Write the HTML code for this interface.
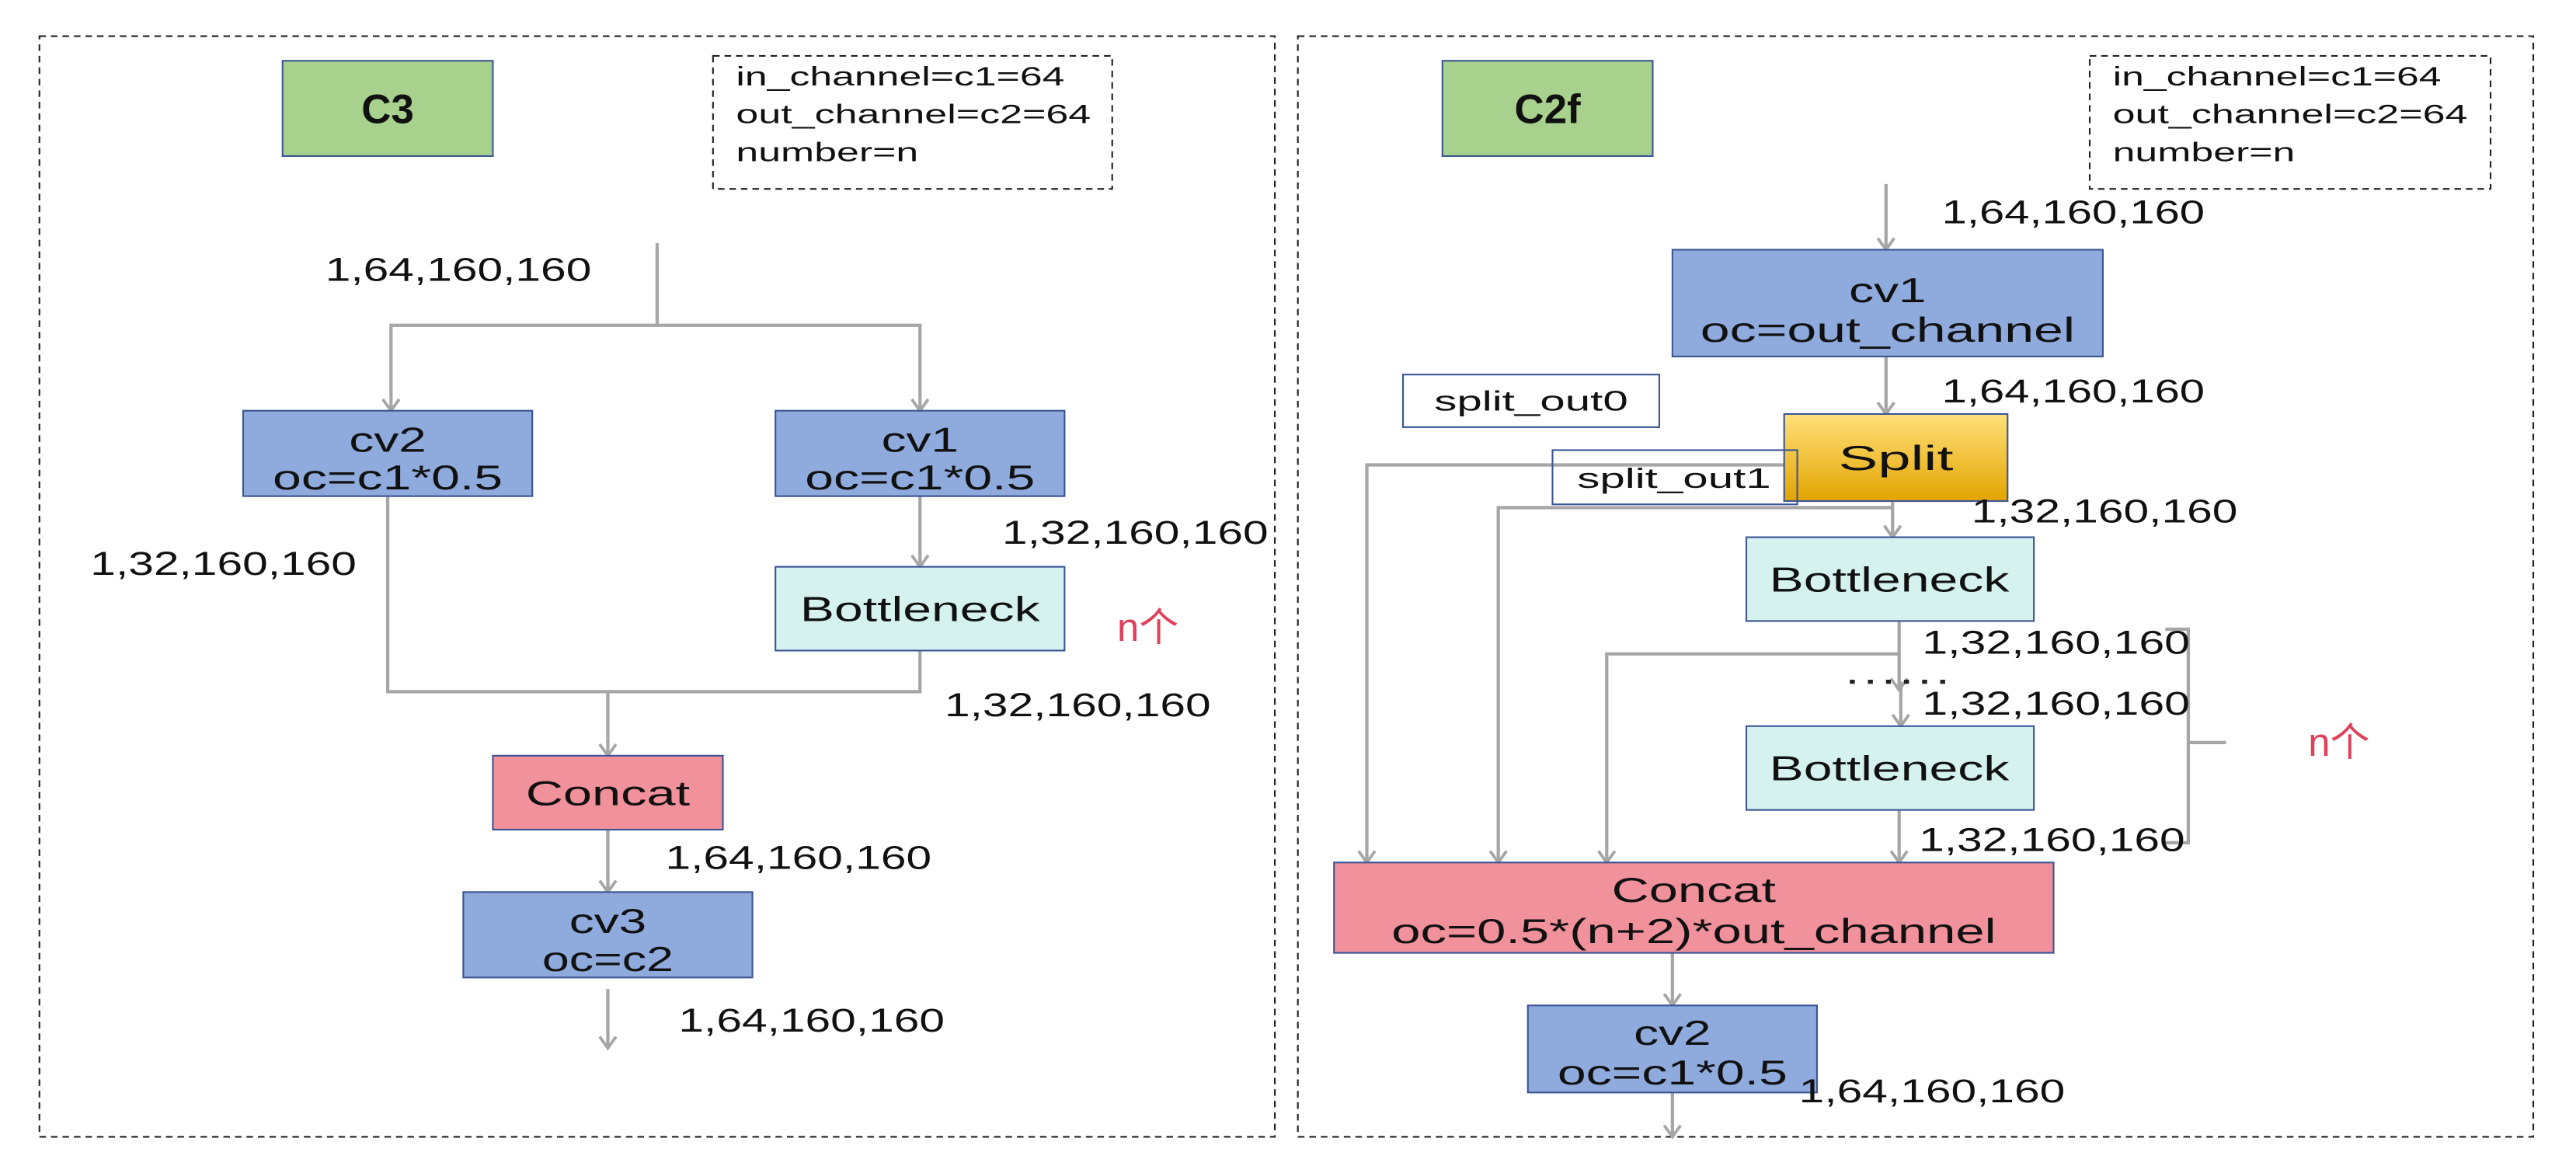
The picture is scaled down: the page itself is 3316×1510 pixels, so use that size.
<!DOCTYPE html>
<html><head><meta charset="utf-8"><style>html,body{margin:0;padding:0;background:#fff}svg{display:block}</style></head>
<body>
<svg width="3316" height="1510" viewBox="0 0 1568 714" preserveAspectRatio="none" xmlns="http://www.w3.org/2000/svg" font-family="Liberation Sans, sans-serif">
<defs>
<marker id="a" markerWidth="10" markerHeight="12" refX="8" refY="6" orient="auto" markerUnits="userSpaceOnUse" viewBox="0 0 10 12">
<polyline points="1,1 8,6 1,11" fill="none" stroke="#a6a6a6" stroke-width="1.8"/>
</marker>
<linearGradient id="g" x1="0" y1="0" x2="0" y2="1"><stop offset="0" stop-color="#ffe07a"/><stop offset="1" stop-color="#e3a400"/></linearGradient>
</defs>
<rect width="1568" height="714" fill="#fff"/>
<g fill="none" stroke="#222" stroke-width="1" stroke-dasharray="4,3">
<rect x="24" y="22" width="752" height="670"/>
<rect x="790" y="22" width="752" height="670"/>
<rect x="434" y="34" width="243" height="81"/>
<rect x="1272" y="34" width="244" height="81"/>
</g>
<g font-size="16" fill="#111">
<text x="448" y="52" textLength="200" lengthAdjust="spacingAndGlyphs">in_channel=c1=64</text>
<text x="448" y="75" textLength="216" lengthAdjust="spacingAndGlyphs">out_channel=c2=64</text>
<text x="448" y="98" textLength="111" lengthAdjust="spacingAndGlyphs">number=n</text>
<text x="1286" y="52" textLength="200" lengthAdjust="spacingAndGlyphs">in_channel=c1=64</text>
<text x="1286" y="75" textLength="216" lengthAdjust="spacingAndGlyphs">out_channel=c2=64</text>
<text x="1286" y="98" textLength="111" lengthAdjust="spacingAndGlyphs">number=n</text>
</g>
<g fill="none" stroke="#a6a6a6" stroke-width="2">
<polyline points="400,148 400,198"/>
<polyline points="400,198 238,198 238,250" marker-end="url(#a)"/>
<polyline points="400,198 560,198 560,250" marker-end="url(#a)"/>
<polyline points="560,302 560,345" marker-end="url(#a)"/>
<polyline points="236,302 236,421 560,421 560,396"/>
<polyline points="370,421 370,460" marker-end="url(#a)"/>
<polyline points="370,505 370,543" marker-end="url(#a)"/>
<polyline points="370,602 370,638" marker-end="url(#a)"/>
<polyline points="1148,112 1148,152" marker-end="url(#a)"/>
<polyline points="1148,217 1148,252" marker-end="url(#a)"/>
<polyline points="1086,283 832,283 832,525" marker-end="url(#a)"/>
<polyline points="1152,309 912,309 912,525" marker-end="url(#a)"/>
<polyline points="1152,305 1152,327" marker-end="url(#a)"/>
<polyline points="1156,378 1156,420" marker-end="url(#a)"/>
<polyline points="1156,398 978,398 978,525" marker-end="url(#a)"/>
<polyline points="1157,415 1157,442" marker-end="url(#a)"/>
<polyline points="1156,493 1156,525" marker-end="url(#a)"/>
<polyline points="1018,580 1018,612" marker-end="url(#a)"/>
<polyline points="1018,665 1018,692" marker-end="url(#a)"/>
<polyline points="1318,383 1332,383 1332,513 1318,513"/>
<polyline points="1332,452 1355,452"/>
</g>
<line x1="1126" y1="415" x2="1186" y2="415" stroke="#222" stroke-width="2.5" stroke-dasharray="3,8"/>
<g stroke="#3b5594" stroke-width="1">
<rect x="172" y="37" width="128" height="58" fill="#a9d18e"/>
<rect x="878" y="37" width="128" height="58" fill="#a9d18e"/>
<rect x="148" y="250" width="176" height="52" fill="#8faadc"/>
<rect x="472" y="250" width="176" height="52" fill="#8faadc"/>
<rect x="472" y="345" width="176" height="51" fill="#d5f2ef"/>
<rect x="300" y="460" width="140" height="45" fill="#f0919b"/>
<rect x="282" y="543" width="176" height="52" fill="#8faadc"/>
<rect x="1018" y="152" width="262" height="65" fill="#8faadc"/>
<rect x="854" y="228" width="156" height="32" fill="#fff"/>
<rect x="1086" y="252" width="136" height="53" fill="url(#g)"/>
<rect x="945" y="274" width="149" height="33" fill="none"/>
<rect x="1063" y="327" width="175" height="51" fill="#d5f2ef"/>
<rect x="1063" y="442" width="175" height="51" fill="#d5f2ef"/>
<rect x="812" y="525" width="438" height="55" fill="#f0919b"/>
<rect x="930" y="612" width="176" height="53" fill="#8faadc"/>
</g>
<g fill="#111" text-anchor="middle">
<text x="236" y="75" font-size="25" font-weight="bold">C3</text>
<text x="942" y="75" font-size="25" font-weight="bold">C2f</text>
<g font-size="21">
<text x="236" y="275" textLength="47" lengthAdjust="spacingAndGlyphs">cv2</text>
<text x="236" y="298" textLength="140" lengthAdjust="spacingAndGlyphs">oc=c1*0.5</text>
<text x="560" y="275" textLength="47" lengthAdjust="spacingAndGlyphs">cv1</text>
<text x="560" y="298" textLength="140" lengthAdjust="spacingAndGlyphs">oc=c1*0.5</text>
<text x="560" y="378" textLength="146" lengthAdjust="spacingAndGlyphs">Bottleneck</text>
<text x="370" y="490" textLength="100" lengthAdjust="spacingAndGlyphs">Concat</text>
<text x="370" y="568" textLength="47" lengthAdjust="spacingAndGlyphs">cv3</text>
<text x="370" y="591" textLength="80" lengthAdjust="spacingAndGlyphs">oc=c2</text>
<text x="1149" y="184" textLength="47" lengthAdjust="spacingAndGlyphs">cv1</text>
<text x="1149" y="208" textLength="228" lengthAdjust="spacingAndGlyphs">oc=out_channel</text>
<text x="1154" y="286" textLength="70" lengthAdjust="spacingAndGlyphs">Split</text>
<text x="1150" y="360" textLength="146" lengthAdjust="spacingAndGlyphs">Bottleneck</text>
<text x="1150" y="475" textLength="146" lengthAdjust="spacingAndGlyphs">Bottleneck</text>
<text x="1031" y="549" textLength="100" lengthAdjust="spacingAndGlyphs">Concat</text>
<text x="1031" y="574" textLength="368" lengthAdjust="spacingAndGlyphs">oc=0.5*(n+2)*out_channel</text>
<text x="1018" y="636" textLength="47" lengthAdjust="spacingAndGlyphs">cv2</text>
<text x="1018" y="660" textLength="140" lengthAdjust="spacingAndGlyphs">oc=c1*0.5</text>
</g>
<g font-size="17">
<text x="932" y="250" textLength="118" lengthAdjust="spacingAndGlyphs">split_out0</text>
<text x="1019" y="297" textLength="118" lengthAdjust="spacingAndGlyphs">split_out1</text>
</g>
</g>
<g fill="#111" font-size="20">
<text x="198" y="171" textLength="162" lengthAdjust="spacingAndGlyphs">1,64,160,160</text>
<text x="55" y="350" textLength="162" lengthAdjust="spacingAndGlyphs">1,32,160,160</text>
<text x="610" y="331" textLength="162" lengthAdjust="spacingAndGlyphs">1,32,160,160</text>
<text x="575" y="436" textLength="162" lengthAdjust="spacingAndGlyphs">1,32,160,160</text>
<text x="405" y="529" textLength="162" lengthAdjust="spacingAndGlyphs">1,64,160,160</text>
<text x="413" y="628" textLength="162" lengthAdjust="spacingAndGlyphs">1,64,160,160</text>
<text x="1182" y="136" textLength="160" lengthAdjust="spacingAndGlyphs">1,64,160,160</text>
<text x="1182" y="245" textLength="160" lengthAdjust="spacingAndGlyphs">1,64,160,160</text>
<text x="1200" y="318" textLength="162" lengthAdjust="spacingAndGlyphs">1,32,160,160</text>
<text x="1170" y="398" textLength="163" lengthAdjust="spacingAndGlyphs">1,32,160,160</text>
<text x="1170" y="435" textLength="163" lengthAdjust="spacingAndGlyphs">1,32,160,160</text>
<text x="1168" y="518" textLength="162" lengthAdjust="spacingAndGlyphs">1,32,160,160</text>
<text x="1095" y="671" textLength="162" lengthAdjust="spacingAndGlyphs">1,64,160,160</text>
</g>
<g fill="#e0405a" font-size="24" font-family="Liberation Sans, Noto Sans CJK SC, sans-serif">
<text x="680" y="390">n个</text>
<text x="1405" y="460">n个</text>
</g>
</svg>
</body></html>
